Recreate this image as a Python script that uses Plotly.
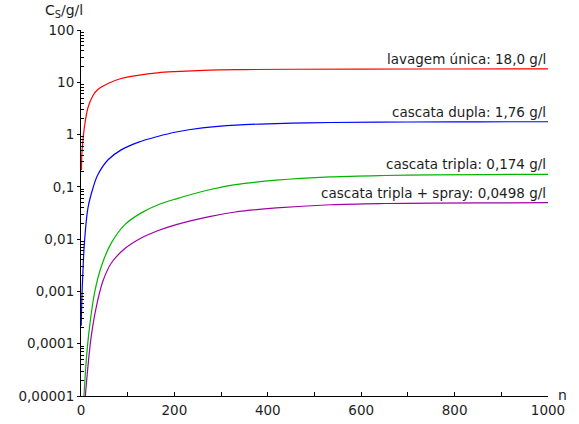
import math
import plotly.graph_objects as go

# ---- data ----
n_red = [1, 2, 5, 7.5, 15, 25.7, 36, 58, 86, 122, 164, 200, 275, 350, 450, 600, 800, 1000]
red = [0.21, 0.45, 0.91, 1.43, 3.3, 5.6, 7.3, 9.5, 11.8, 13.6, 15.2, 16.0, 17.1, 17.5, 17.75, 17.9, 17.97, 18.0]

n_blue = [0.5, 2, 4, 7.5, 15, 25.7, 36, 58, 86, 122, 164, 204, 260, 332, 450, 534, 700, 850, 1000]
blue = [0.00022, 0.0008, 0.0023, 0.009, 0.04, 0.095, 0.17, 0.33, 0.51, 0.71, 0.92, 1.12, 1.34, 1.52, 1.65, 1.70, 1.74, 1.755, 1.76]

n_green = [6.4, 11.4, 18.6, 29, 43.5, 65, 94, 129, 164, 204, 275, 330, 418, 534, 650, 750, 870, 1000]
green = [1e-5, 5e-5, 2.2e-4, 9.4e-4, 0.003, 0.0085, 0.019, 0.0318, 0.045, 0.059, 0.088, 0.11, 0.134, 0.155, 0.165, 0.169, 0.172, 0.174]

n_purple = [9.3, 15, 22, 33, 47, 65, 94, 129, 164, 204, 275, 330, 418, 534, 650, 750, 870, 1000]
purple = [1e-5, 3.8e-5, 1.4e-4, 5.2e-4, 1.58e-3, 3.5e-3, 6.6e-3, 0.0105, 0.0145, 0.019, 0.027, 0.033, 0.0395, 0.0455, 0.048, 0.0488, 0.0494, 0.0498]

labels = ["lavagem única: 18,0 g/l", "cascata dupla: 1,76 g/l",
          "cascata tripla: 0,174 g/l", "cascata tripla + spray: 0,0498 g/l"]
label_values = [18.0, 1.76, 0.174, 0.0498]

y_tickvals = [1e-5, 1e-4, 1e-3, 1e-2, 1e-1, 1, 10, 100]
y_ticktext = ["0,00001", "0,0001", "0,001", "0,01", "0,1", "1", "10", "100"]
x_tickvals = [0, 200, 400, 600, 800, 1000]
x_ticktext = ["0", "200", "400", "600", "800", "1000"]

colors = ["#ff0000", "#0000ff", "#00b400", "#a000a8"]
series = [(n_red, red), (n_blue, blue), (n_green, green), (n_purple, purple)]

FONT = "DejaVu Sans"
TXT = "#1e1e1e"

fig = go.Figure()
for (xs, ys), c in zip(series, colors):
    fig.add_trace(go.Scatter(x=xs, y=ys, mode="lines",
                             line=dict(color=c, width=1.2, shape="spline", smoothing=1),
                             hoverinfo="skip", showlegend=False))

for lab, v in zip(labels, label_values):
    fig.add_annotation(x=1000, y=math.log10(v), yref="y", xref="x", text=lab, showarrow=False,
                       xanchor="right", yanchor="bottom", yshift=0,
                       font=dict(family=FONT, size=13.5, color=TXT))

fig.add_annotation(x=0, y=1, xref="paper", yref="paper", text="C<sub>S</sub>/g/l",
                   showarrow=False, xanchor="right", yanchor="middle", xshift=4, yshift=19,
                   font=dict(family=FONT, size=14, color=TXT))
fig.add_annotation(x=1, y=0, xref="paper", yref="paper", text="n",
                   showarrow=False, xanchor="left", yanchor="middle", xshift=8, yshift=1,
                   font=dict(family=FONT, size=14, color=TXT))

minor_y = [k * 10.0 ** e for e in range(-5, 2) for k in range(2, 10)]

fig.update_layout(
    width=579, height=424,
    margin=dict(l=81, r=31, t=30, b=28),
    paper_bgcolor="white", plot_bgcolor="white",
    font=dict(family=FONT, size=13.5, color=TXT),
    xaxis=dict(range=[0, 1000], tickvals=x_tickvals, ticktext=x_ticktext,
               showline=True, linecolor="black", linewidth=1,
               ticks="inside", ticklen=4, tickcolor="black",
               ticklabelstandoff=2, automargin=False,
               minor=dict(dtick=100, ticks="inside", ticklen=4, tickcolor="black"),
               showgrid=False, zeroline=False,
               tickfont=dict(family=FONT, size=13.5, color=TXT)),
    yaxis=dict(type="log", range=[-5, 2], tickvals=y_tickvals, ticktext=y_ticktext,
               showline=True, linecolor="black", linewidth=1,
               ticks="outside", ticklen=3, tickcolor="black", automargin=False,
               minor=dict(tickvals=minor_y, ticks="inside", ticklen=3, tickcolor="black"),
               showgrid=False, zeroline=False,
               tickfont=dict(family=FONT, size=13.5, color=TXT)),
)

fig.write_html("out.html")
